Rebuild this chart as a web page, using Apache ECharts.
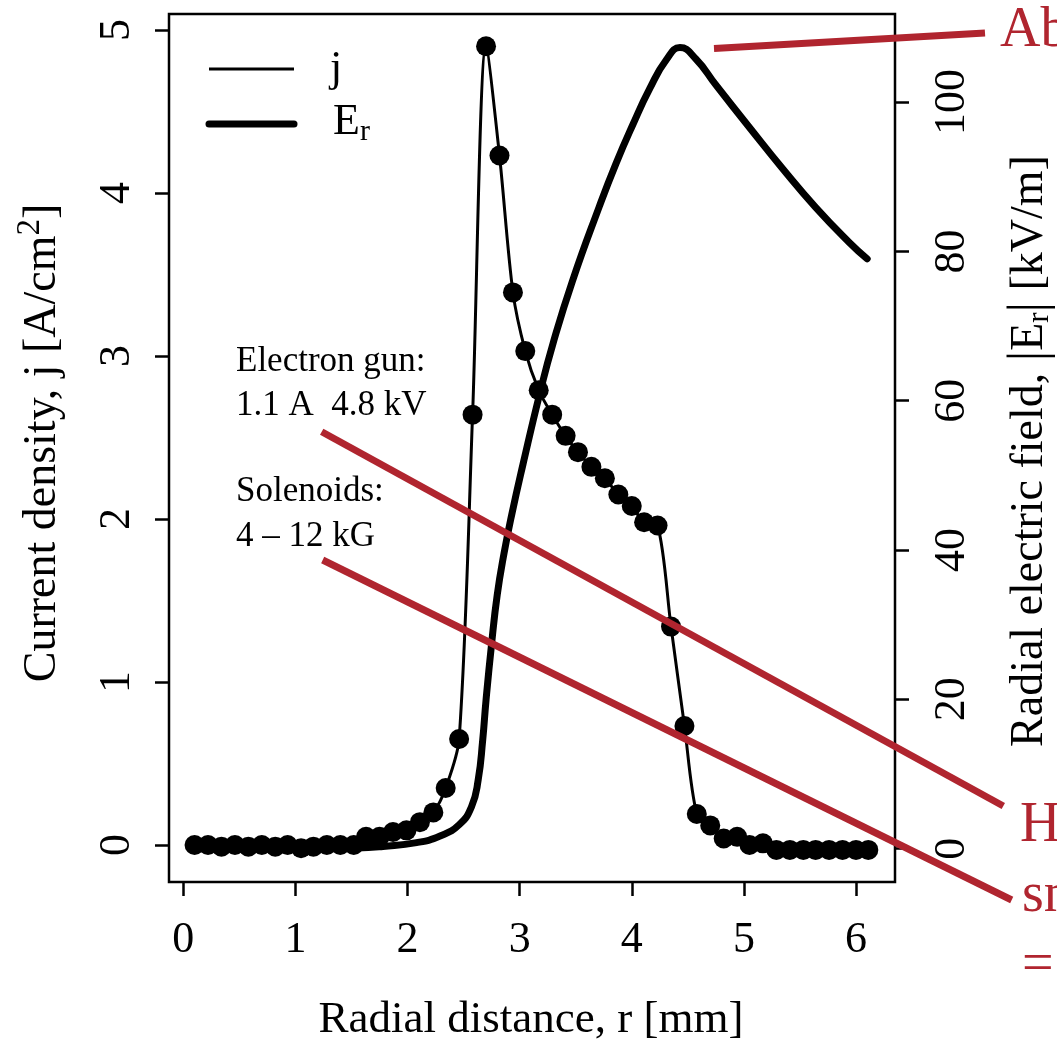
<!DOCTYPE html>
<html><head><meta charset="utf-8">
<script src="https://cdn.jsdelivr.net/npm/echarts@6/dist/echarts.min.js"></script>
<style>html,body{margin:0;padding:0;background:#fff}#c{width:1057px;height:1041px}</style>
</head><body><div id="c"></div>
<script>
// ---- data ----
const rJ = [0.10,0.22,0.34,0.46,0.58,0.70,0.82,0.93,1.05,1.16,1.28,1.40,1.52,1.63,1.75,1.87,1.99,2.11,2.23,2.34,2.46,2.58,2.70,2.82,2.94,3.05,3.17,3.29,3.41,3.52,3.64,3.76,3.88,4.00,4.11,4.23,4.35,4.47,4.58,4.70,4.82,4.94,5.05,5.17,5.29,5.41,5.53,5.64,5.76,5.88,6.00,6.11];
const jVals = [0.00,0.00,-0.01,0.00,-0.01,0.00,-0.01,0.00,-0.02,-0.01,0.00,0.00,0.00,0.05,0.05,0.08,0.09,0.14,0.20,0.35,0.65,2.64,4.90,4.23,3.39,3.03,2.79,2.64,2.51,2.41,2.32,2.25,2.15,2.08,1.98,1.96,1.34,0.73,0.19,0.12,0.04,0.05,0.00,0.01,-0.03,-0.03,-0.03,-0.03,-0.03,-0.03,-0.03,-0.03];
const rE = [0.10,0.60,1.20,1.55,1.78,2.08,2.29,2.46,2.57,2.63,2.67,2.70,2.75,2.80,2.86,2.93,3.03,3.18,3.30,3.47,3.71,3.86,4.01,4.16,4.31,4.43,4.57,4.75,5.05,5.35,5.64,5.94,6.10];
const eVals = [0.0,0.0,0.05,0.1,0.3,0.8,1.7,3.2,5.6,9.2,14.5,19.9,27.5,34.0,39.5,44.8,51.5,61.0,67.8,76.0,86.0,91.8,97.0,101.8,105.7,107.3,105.8,102.3,96.6,91.0,85.9,81.2,79.0];
const xTicks = [0,1,2,3,4,5,6];
const jTicks = [0,1,2,3,4,5];
const eTicks = [0,20,40,60,80,100];
const legendNames = ['j','E','r'];
const noteLines = ['Electron gun:','1.1 A  4.8 kV','Solenoids:','4 \u2013 12 kG'];
const redTexts = ['Ab','H','sn','='];

const FF = "'Liberation Serif','Times New Roman',serif";
const RED = '#b0252f';
const ctx = document.createElement('canvas').getContext('2d');
function tw(t, s){ ctx.font = s + 'px ' + FF; return ctx.measureText(t).width; }
function txt(t, x, y, s, extra){
  return Object.assign({type:'text', x:x, y:y, z:50, style:{text:t, font: s+'px '+FF, fontSize:s, fontFamily:FF, fill:'#000',
    textAlign:'left', textVerticalAlign:'middle', align:'left', verticalAlign:'middle'}}, extra||{});
}
function rotTitle(parts, cx, cy){
  let total = 0; parts.forEach(p => { p.w = tw(p.t, p.s); total += p.w; });
  let pos = -total/2; const ch = [];
  parts.forEach(p => { ch.push(txt(p.t, pos, p.dy||0, p.s)); pos += p.w; });
  return {type:'group', x:cx, y:cy, rotation:Math.PI/2, children:ch, z:50};
}

const chart = echarts.init(document.getElementById('c'), null, {renderer:'canvas'});
const tickStyle = {show:true, inside:false, length:14, lineStyle:{color:'#000', width:2.5}};
const graphics = [
  // legend
  {type:'line', z:50, shape:{x1:209,y1:69,x2:294,y2:69}, style:{stroke:'#000', lineWidth:3}},
  {type:'line', z:50, shape:{x1:209,y1:124,x2:294,y2:124}, style:{stroke:'#000', lineWidth:7, lineCap:'round'}},
  txt(legendNames[0], 330, 69, 44),
  txt(legendNames[1], 333, 122, 44),
  txt(legendNames[2], 333 + tw('E',44), 132, 30),
  // notes
  txt(noteLines[0], 236, 362, 35),
  txt(noteLines[1], 236, 406, 35),
  txt(noteLines[2], 236, 492, 35),
  txt(noteLines[3], 236, 537, 35),
  // axis titles
  Object.assign(txt('Radial distance, r [mm]', 531, 1020, 45), {style:Object.assign(txt('Radial distance, r [mm]',0,0,45).style,{textAlign:'center',align:'center'})}),
  rotTitle([{t:'Current density, j [A/cm',s:46},{t:'2',s:33,dy:-13},{t:']',s:46}], 43, 443),
  rotTitle([{t:'Radial electric field, ',s:46},{t:'|',s:52},{t:'E',s:46},{t:'r',s:31,dy:10},{t:'|',s:52},{t:' [kV/m]',s:46}], 1030, 451),
  // red annotations
  {type:'line', z:60, shape:{x1:714,y1:48.5,x2:985,y2:33}, style:{stroke:RED, lineWidth:7}},
  {type:'line', z:60, shape:{x1:321.7,y1:431.7,x2:1003.3,y2:806}, style:{stroke:RED, lineWidth:7}},
  {type:'line', z:60, shape:{x1:322.7,y1:560,x2:1011.7,y2:900}, style:{stroke:RED, lineWidth:7}},
];
[[redTexts[0],1000,31],[redTexts[1],1020,826],[redTexts[2],1022,896],[redTexts[3],1022,966]].forEach(a=>{
  const g = txt(a[0], a[1], a[2], 56); g.style.fill = RED; g.z = 60; graphics.push(g);
});

chart.setOption({
  animation:false,
  backgroundColor:'#fff',
  grid:{left:169, right:162, top:14, bottom:159, show:true, borderColor:'#000', borderWidth:2.5, backgroundColor:'transparent'},
  xAxis:{type:'value', min:-0.128, max:6.348,
    axisLine:{show:false, onZero:false}, splitLine:{show:false},
    axisTick:Object.assign({customValues:xTicks}, tickStyle),
    axisLabel:{customValues:xTicks, fontFamily:FF, fontSize:44, color:'#000', margin:36}},
  yAxis:[
    {type:'value', position:'left', min:-0.227, max:5.098,
      axisLine:{show:false, onZero:false}, splitLine:{show:false},
      axisTick:Object.assign({customValues:jTicks}, tickStyle),
      axisLabel:{customValues:jTicks, fontFamily:FF, fontSize:44, color:'#000', rotate:90, margin:30}},
    {type:'value', position:'right', min:-4.47, max:111.8,
      axisLine:{show:false, onZero:false}, splitLine:{show:false},
      axisTick:Object.assign({customValues:eTicks}, tickStyle),
      axisLabel:{customValues:eTicks, fontFamily:FF, fontSize:44, color:'#000', rotate:90, margin:35}},
  ],
  series:[
    {name:'Er', type:'line', yAxisIndex:1, data:rE.map((r,i)=>[r,eVals[i]]), showSymbol:false, smooth:0.5,
      lineStyle:{color:'#000', width:7, cap:'round', join:'round'}, z:2},
    {name:'j', type:'line', yAxisIndex:0, data:rJ.map((r,i)=>[r,jVals[i]]), symbol:'circle', symbolSize:20, smooth:0.3,
      itemStyle:{color:'#000'}, lineStyle:{color:'#000', width:3}, z:3},
  ],
  graphic:graphics,
});
</script></body></html>
